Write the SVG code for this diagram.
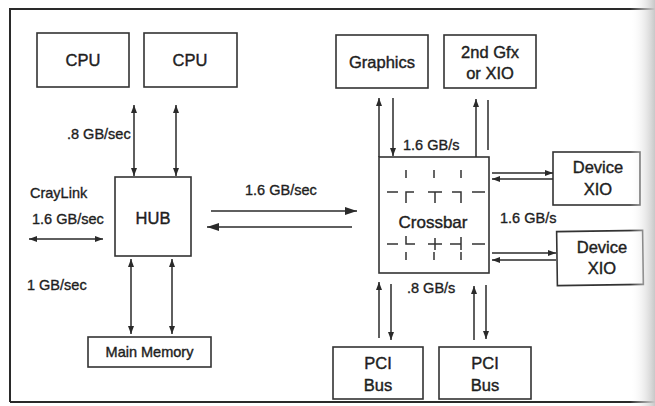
<svg xmlns="http://www.w3.org/2000/svg" width="655" height="406" viewBox="0 0 655 406">
<defs>
<marker id="ah" viewBox="0 0 8 6" refX="8" refY="3" markerWidth="8" markerHeight="6" markerUnits="userSpaceOnUse" orient="auto-start-reverse"><path d="M0,0 L8,3 L0,6 z" fill="#2a2a2a"/></marker>
<marker id="ahb" viewBox="0 0 12 8" refX="12" refY="4" markerWidth="12" markerHeight="8" markerUnits="userSpaceOnUse" orient="auto"><path d="M0,0 L12,4 L0,8 z" fill="#2a2a2a"/></marker>
<linearGradient id="edge" x1="0" y1="0" x2="1" y2="0"><stop offset="0" stop-color="#ffffff" stop-opacity="0"/><stop offset="1" stop-color="#c8c8c8"/></linearGradient>
<style>
.box{fill:#fff;stroke:#333;stroke-width:1.6}
.t{font-family:"Liberation Sans",Arial,sans-serif;fill:#1e1e1e;stroke:#1e1e1e;stroke-width:0.4;text-anchor:middle;font-size:16.5px}
.l{font-family:"Liberation Sans",Arial,sans-serif;fill:#1e1e1e;stroke:#1e1e1e;stroke-width:0.35;font-size:14.5px}
.c{stroke:#2a2a2a;stroke-width:1.5;fill:none}
.x{stroke:#333;stroke-width:1.5;fill:none}
</style>
</defs>
<rect width="655" height="406" fill="#fff"/>
<path d="M10,402 V9 H655 M10,402 H655" stroke="#2a2a2a" stroke-width="2" fill="none"/>

<g id="cpu1"><rect class="box" x="37" y="33" width="92" height="54"/><text class="t" x="83" y="66">CPU</text></g>
<g id="cpu2"><rect class="box" x="144" y="33" width="93" height="54"/><text class="t" x="190" y="66">CPU</text></g>
<g id="hub"><rect class="box" x="115" y="177" width="76" height="79"/><text class="t" x="153" y="224">HUB</text></g>
<g id="mem"><rect class="box" x="88" y="337" width="123" height="30"/><text class="t" x="149.500" y="357" style="font-size:14.5px">Main Memory</text></g>
<g id="graphics"><rect class="box" x="336" y="35" width="92" height="53"/><text class="t" x="382" y="68">Graphics</text></g>
<g id="gfx2"><rect class="box" x="444" y="35" width="92" height="53"/><text class="t" x="490" y="58">2nd Gfx</text><text class="t" x="490" y="79">or XIO</text></g>
<g id="crossbar"><rect class="box" x="379" y="157" width="110" height="116"/>
<path class="x" d="M406,170v8M434,170v8M461,170v8M387,192H398M406,203V192H414M428,192H442M435,192V203M452,192H461V203M472,192H485M387,244H398M406,236V244H415M428,244H442M435,238V250M450,244H461M461,237V250M472,244H485M406,252v8M434,252v8M461,252v8"/>
<text class="t" x="433" y="228" style="font-size:17px">Crossbar</text></g>
<g id="dev1"><rect class="box" x="553" y="152" width="87" height="53"/><text class="t" x="598" y="173">Device</text><text class="t" x="598" y="195">XIO</text></g>
<g id="dev2"><rect class="box" x="557" y="231" width="86" height="54" transform="rotate(-0.8 600 258)"/><text class="t" x="602" y="253">Device</text><text class="t" x="602" y="274">XIO</text></g>
<g id="pci1"><rect class="box" x="333" y="347" width="90" height="52"/><text class="t" x="378" y="369">PCI</text><text class="t" x="378" y="391">Bus</text></g>
<g id="pci2"><rect class="box" x="439" y="347" width="92" height="52"/><text class="t" x="485" y="369">PCI</text><text class="t" x="485" y="391">Bus</text></g>

<g id="connectors">
<line class="c" x1="134" y1="105" x2="134" y2="176" marker-start="url(#ah)" marker-end="url(#ah)"/>
<line class="c" x1="176" y1="105" x2="176" y2="176" marker-start="url(#ah)" marker-end="url(#ah)"/>
<line class="c" x1="29" y1="239" x2="103" y2="239" marker-start="url(#ah)" marker-end="url(#ah)"/>
<line class="c" x1="131" y1="259" x2="131" y2="334" marker-start="url(#ah)" marker-end="url(#ah)"/>
<line class="c" x1="172" y1="259" x2="172" y2="334" marker-start="url(#ah)" marker-end="url(#ah)"/>
<line class="c" x1="211" y1="211" x2="357" y2="211" marker-end="url(#ahb)"/>
<line class="c" x1="352" y1="227" x2="207" y2="227" marker-end="url(#ahb)"/>
<line class="c" x1="379" y1="157" x2="379" y2="98" marker-end="url(#ah)"/>
<line class="c" x1="393" y1="98" x2="393" y2="156" marker-end="url(#ah)"/>
<line class="c" x1="476" y1="157" x2="476" y2="99" marker-end="url(#ah)"/>
<line class="c" x1="488" y1="100" x2="488" y2="150"/>
<line class="c" x1="492" y1="173" x2="553" y2="173" marker-end="url(#ah)"/>
<line class="c" x1="553" y1="179" x2="492" y2="179" marker-end="url(#ah)"/>
<line class="c" x1="492" y1="253" x2="556" y2="253" marker-end="url(#ah)"/>
<line class="c" x1="556" y1="260" x2="492" y2="260" marker-end="url(#ah)"/>
<line class="c" x1="379" y1="338" x2="379" y2="282" marker-end="url(#ah)"/>
<line class="c" x1="391" y1="284" x2="391" y2="340" marker-end="url(#ah)"/>
<line class="c" x1="474" y1="340" x2="474" y2="286" marker-end="url(#ah)"/>
<line class="c" x1="486" y1="285" x2="486" y2="339" marker-end="url(#ah)"/>
</g>

<g id="labels">
<text class="l" x="67" y="139">.8 GB/sec</text>
<text class="l" x="30" y="198">CrayLink</text>
<text class="l" x="32" y="224">1.6 GB/sec</text>
<text class="l" x="27" y="290">1 GB/sec</text>
<text class="l" x="245" y="195">1.6 GB/sec</text>
<text class="l" x="403" y="150">1.6 GB/s</text>
<text class="l" x="500" y="223">1.6 GB/s</text>
<text class="l" x="407" y="293">.8 GB/s</text>
</g>
<rect x="630" y="0" width="25" height="406" fill="url(#edge)"/>
</svg>
